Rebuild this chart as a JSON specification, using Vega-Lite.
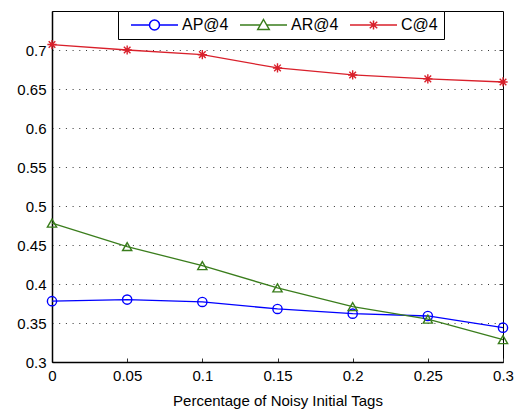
{
  "$schema": "https://vega.github.io/schema/vega-lite/v6.json",
  "autosize": "none",
  "padding": {"left": 52, "top": 11, "right": 14, "bottom": 48},
  "width": 451,
  "height": 351,
  "background": "white",
  "config": {
    "font": "Liberation Sans",
    "view": {"stroke": "black", "strokeWidth": 1},
    "axis": {
      "labelFont": "Liberation Sans",
      "titleFont": "Liberation Sans",
      "labelFontSize": 15,
      "titleFontSize": 15,
      "titleFontWeight": "normal",
      "labelColor": "black",
      "titleColor": "black",
      "domainColor": "black",
      "domainWidth": 1.5,
      "ticks": false
    }
  },
  "data": {
    "values": [
      {"x": 0, "metric": "AP@4", "v": 0.378},
      {"x": 0.05, "metric": "AP@4", "v": 0.380},
      {"x": 0.1, "metric": "AP@4", "v": 0.377},
      {"x": 0.15, "metric": "AP@4", "v": 0.368},
      {"x": 0.2, "metric": "AP@4", "v": 0.362},
      {"x": 0.25, "metric": "AP@4", "v": 0.359},
      {"x": 0.3, "metric": "AP@4", "v": 0.344},
      {"x": 0, "metric": "AR@4", "v": 0.478},
      {"x": 0.05, "metric": "AR@4", "v": 0.448},
      {"x": 0.1, "metric": "AR@4", "v": 0.4235},
      {"x": 0.15, "metric": "AR@4", "v": 0.395},
      {"x": 0.2, "metric": "AR@4", "v": 0.371},
      {"x": 0.25, "metric": "AR@4", "v": 0.355},
      {"x": 0.3, "metric": "AR@4", "v": 0.3287},
      {"x": 0, "metric": "C@4", "v": 0.707},
      {"x": 0.05, "metric": "C@4", "v": 0.700},
      {"x": 0.1, "metric": "C@4", "v": 0.694},
      {"x": 0.15, "metric": "C@4", "v": 0.677},
      {"x": 0.2, "metric": "C@4", "v": 0.668},
      {"x": 0.25, "metric": "C@4", "v": 0.663},
      {"x": 0.3, "metric": "C@4", "v": 0.659}
    ]
  },
  "encoding": {
    "x": {
      "field": "x", "type": "quantitative",
      "scale": {"domain": [0, 0.3], "nice": false, "zero": false},
      "axis": {"values": [0, 0.05, 0.1, 0.15, 0.2, 0.25, 0.3], "format": ".2~f", "grid": false, "ticks": true, "tickSize": -4, "tickColor": "#333333", "tickWidth": 1, "labelPadding": 10, "titlePadding": 10, "title": "Percentage of Noisy Initial Tags", "labelFlush": false, "labelOverlap": false}
    },
    "color": {
      "field": "metric", "type": "nominal",
      "scale": {"domain": ["AP@4", "AR@4", "C@4"], "range": ["#0000ff", "#3a7d1c", "#d9202b"]},
      "legend": {
        "title": null,
        "orient": "none",
        "legendX": 66,
        "legendY": 0,
        "direction": "horizontal",
        "padding": 6,
        "fillColor": "white",
        "strokeColor": "black",
        "labelFont": "Liberation Sans",
        "labelFontSize": 16,
        "labelColor": "black",
        "symbolSize": 100,
        "symbolStrokeWidth": 1.5,
        "labelOffset": 42,
        "columnPadding": 4,
        "encode": {
          "symbols": {
            "update": {
              "fill": {"value": "transparent"},
              "shape": {"signal": "datum.value == 'AP@4' ? 'M-0.2,0L3.5,0M5.5,0L9.2,0M3.5,0A1,1 0 1,0 5.5,0A1,1 0 1,0 3.5,0' : datum.value == 'AR@4' ? 'M-0.2,0L3.85,0M5.15,0L9.2,0M4.5,-1.1L5.65,0.9L3.35,0.9Z' : 'M-0.2,0L9.2,0M4.5,-0.9L4.5,0.9M3.75,-0.65L5.25,0.65M3.75,0.65L5.25,-0.65'"}
            }
          }
        }
      }
    }
  },
  "layer": [
    {
      "mark": {"type": "line", "strokeWidth": 1.3},
      "encoding": {
        "y": {
          "field": "v", "type": "quantitative",
          "scale": {"domain": [0.3, 0.75], "nice": false, "zero": false},
          "axis": {"values": [0.3, 0.35, 0.4, 0.45, 0.5, 0.55, 0.6, 0.65, 0.7], "format": ".2~f", "title": null, "labelPadding": 6, "grid": true, "gridColor": "#333333", "gridDash": [1, 5.7], "gridWidth": 1, "labelFlush": false, "labelOverlap": false}
        }
      }
    },
    {
      "mark": {"type": "point", "filled": false, "strokeWidth": 1.4, "size": 85, "opacity": 1},
      "encoding": {
        "y": {
          "field": "v", "type": "quantitative",
          "scale": {"domain": [0.3, 0.75], "nice": false, "zero": false},
          "axis": {"orient": "right", "values": [0.35, 0.4, 0.45, 0.5, 0.55, 0.6, 0.65, 0.7], "title": null, "labels": false, "domain": false, "grid": false, "ticks": true, "tickSize": -4, "tickColor": "#333333", "tickWidth": 1}
        },
        "shape": {
          "condition": [
            {"test": "datum.metric == 'AP@4'", "value": "circle"},
            {"test": "datum.metric == 'AR@4'", "value": "triangle-up"}
          ],
          "value": "M-1,0L1,0M0,-1L0,1M-0.72,-0.72L0.72,0.72M-0.72,0.72L0.72,-0.72"
        }
      }
    }
  ],
  "resolve": {"axis": {"y": "independent"}}
}
